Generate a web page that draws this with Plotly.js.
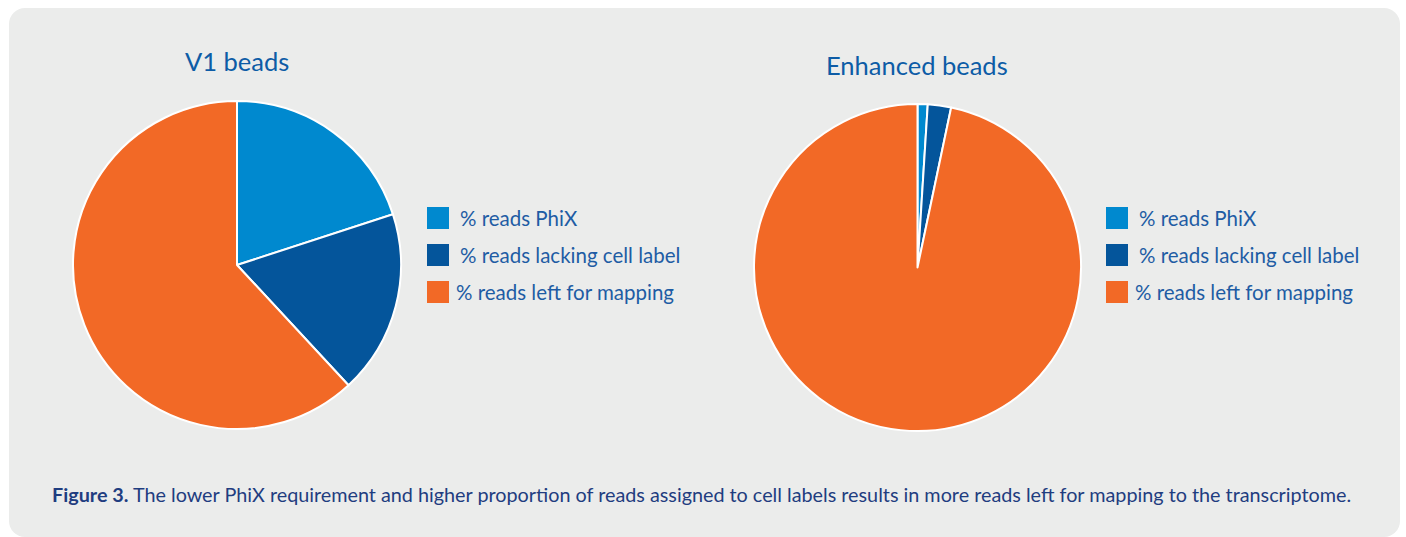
<!DOCTYPE html>
<html><head><meta charset="utf-8">
<script src="https://cdn.plot.ly/plotly-3.0.1.min.js"></script>
<style>
html,body{margin:0;padding:0;background:#fff;}
#panel{position:absolute;left:9px;top:8px;width:1391px;height:529px;background:#ebeceb;border-radius:16px 16px 16px 16px;}
#chart{position:absolute;left:0;top:0;width:1406px;height:537px;}
</style></head>
<body>
<div id="panel"></div>
<div id="chart"></div>
<script>
const labels = ["% reads PhiX", "% reads lacking cell label", "% reads left for mapping"];
const colors = ["#0089cf", "#04559b", "#f26926"];
const titles = ["V1 beads", "Enhanced beads"];
const v1Values = [20.0, 18.1, 61.9];
const enhancedValues = [1.0, 2.3, 96.7];
const captionBold = "Figure 3.";
const captionText = " The lower PhiX requirement and higher proportion of reads assigned to cell labels results in more reads left for mapping to the transcriptome.";

const W = 1406, H = 537;
const px = x => x / W;
const py = y => 1 - y / H;
const FONT = "Lato, 'Open Sans', sans-serif";

function pieTrace(values, x0, x1, y0, y1) {
  return {
    type: "pie", labels: labels, values: values, sort: false, direction: "clockwise", rotation: 0,
    marker: {colors: colors, line: {color: "#ffffff", width: 2}},
    textinfo: "none", hoverinfo: "label+value", showlegend: false,
    domain: {x: [px(x0), px(x1)], y: [py(y1), py(y0)]}
  };
}

const data = [
  pieTrace(v1Values, 73, 401, 101, 429),
  pieTrace(enhancedValues, 754, 1081, 104, 431)
];

const shapes = [], annotations = [];
const legendX = [427, 1106];
const legendY = [207, 244, 281];
legendX.forEach(lx => {
  labels.forEach((lab, i) => {
    shapes.push({type: "rect", xref: "paper", yref: "paper", x0: px(lx), x1: px(lx + 22), y0: py(legendY[i] + 22), y1: py(legendY[i]), fillcolor: colors[i], line: {width: 0}});
    annotations.push({xref: "paper", yref: "paper", x: px(lx + (i === 2 ? 27 : 31)), y: py(legendY[i] + 11), xanchor: "left", yanchor: "middle", text: lab, showarrow: false, font: {family: FONT, size: 20.5, color: "#1e5ca4"}});
  });
});
annotations.push({xref: "paper", yref: "paper", x: px(237), y: py(61), xanchor: "center", yanchor: "middle", text: titles[0], showarrow: false, font: {family: FONT, size: 25.5, color: "#0d5ca6"}});
annotations.push({xref: "paper", yref: "paper", x: px(917), y: py(65), xanchor: "center", yanchor: "middle", text: titles[1], showarrow: false, font: {family: FONT, size: 25.5, color: "#0d5ca6"}});
annotations.push({xref: "paper", yref: "paper", x: px(50), y: py(494), xanchor: "left", yanchor: "middle", text: "<b>" + captionBold + "</b>" + captionText, showarrow: false, font: {family: FONT, size: 19.8, color: "#1f3d80"}});

const layout = {
  width: W, height: H, margin: {l: 0, r: 0, t: 0, b: 0},
  paper_bgcolor: "rgba(0,0,0,0)", plot_bgcolor: "rgba(0,0,0,0)",
  showlegend: false, shapes: shapes, annotations: annotations
};
Plotly.newPlot("chart", data, layout, {displayModeBar: false, staticPlot: true});
</script>
</body></html>
